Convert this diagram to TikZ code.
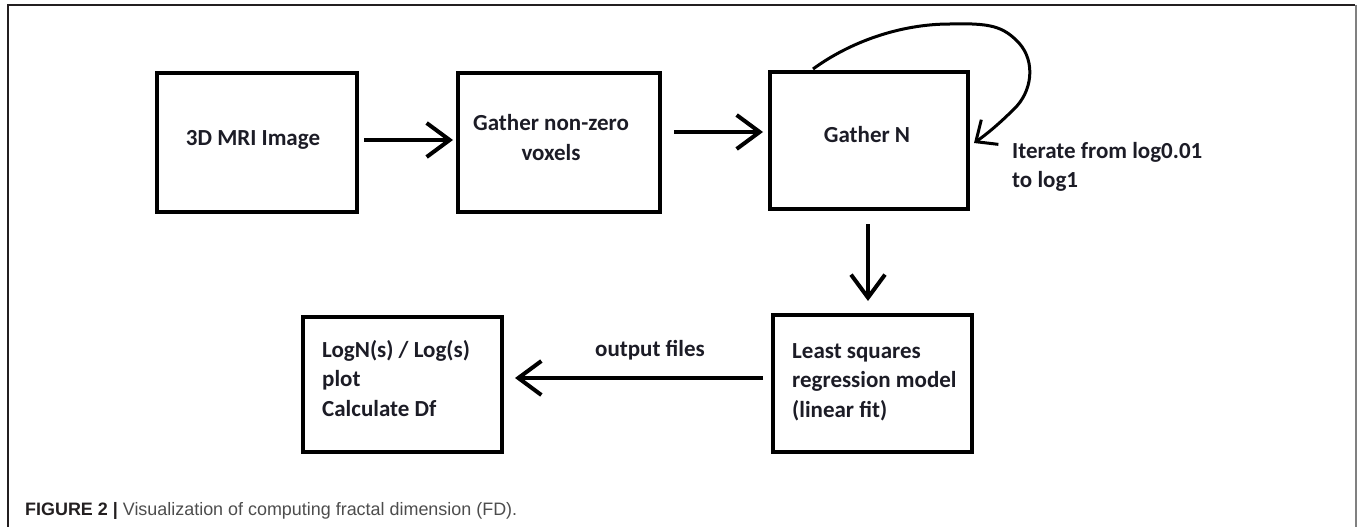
\documentclass[tikz,border=0pt]{standalone}
\usepackage{fontspec}
\setmainfont{Carlito}
\newfontfamily\capfont{Liberation Sans}
\usetikzlibrary{arrows.meta,calc}
\definecolor{txt}{RGB}{28,28,38}
\definecolor{capdark}{RGB}{35,31,32}
\definecolor{capgray}{RGB}{77,77,77}
\tikzset{
  box/.style={draw=black, line width=4pt, minimum width=#1, inner sep=0pt, fill=none},
  boxtext/.style={font=\bfseries\fontsize{23}{29.5}\selectfont, text=txt, inner sep=0pt},
  arr/.style={line width=4pt, -{Straight Barb[length=23pt,width=34pt]}},
  looparr/.style={line width=3pt, -{Straight Barb[length=17pt,width=30pt]}},
}
\begin{document}
\begin{tikzpicture}[x=1pt,y=-1pt]
\useasboundingbox (0,0) rectangle (1358,527);
% frame
\draw[line width=1.5pt, capdark] (8,530) -- (8,5) -- (1355,5);
\draw[line width=2.5pt, gray] (1356,5) -- (1356,530);
% boxes
\node[box=200pt, minimum height=139pt] (b1) at (257,142.5) {};
\node[box=202pt, minimum height=139pt] (b2) at (559,142.5) {};
\node[box=198pt, minimum height=137pt] (b3) at (869,140.5) {};
\node[box=199pt, minimum height=135pt] (b4) at (402.5,384.5) {};
\node[box=199pt, minimum height=137pt] (b5) at (872.5,383.5) {};
% texts
\node[boxtext] (t1) at (253,140) {3D MRI Image};
\node[boxtext, align=center] (t2) at (551,137.5) {Gather non-zero\\voxels};
\node[boxtext] (t3) at (867,135) {Gather N};
\node[boxtext, align=left, anchor=west] (t4) at (322,378.5) {LogN(s) / Log(s)\\plot\\Calculate Df};
\node[boxtext, align=left, anchor=west] (t5) at (792,382) {Least squares\\regression model\\(linear fit)};
\node[boxtext, align=left, anchor=west] (t6) at (1012,167) {Iterate from log0.01\\to log1};
\node[boxtext] (t7) at (650,350) {output files};
% arrows
\draw[arr] ($(b1.east)+(5,-2.5)$) -- ($(b2.west)+(-3,-2.5)$);
\draw[arr] ($(b2.east)+(12,-10.5)$) -- ($(b3.west)+(-5,-8.5)$);
\draw[arr] ($(b3.south)+(-1,13)$) -- ($(b5.north)+(-4.5,-12)$);
\draw[arr] ($(b5.west)+(-8,-5.5)$) -- ($(b4.east)+(11,-6.5)$);
% loop
\coordinate (ls) at ($(b3.north west)+(45,-1)$);
\coordinate (le) at ($(b3.east)+(4,2.5)$);
\draw[looparr, line join=round] (ls) .. controls (850,42) and (900,24) .. (950,24)
  .. controls (990,23) and (1003,26) .. (1019,43)
  .. controls (1036,62) and (1032,92) .. (1014,109)
  .. controls (1000,123) and (987,134) .. (le);
% caption
\node[anchor=base west, inner sep=0pt, font=\capfont\fontsize{18}{20}\selectfont] (cap) at (25,515)
  {\resizebox{492pt}{\height}{\textcolor{capdark}{\bfseries FIGURE 2 |} \textcolor{capgray}{Visualization of computing fractal dimension (FD).}}};
\end{tikzpicture}
\end{document}
